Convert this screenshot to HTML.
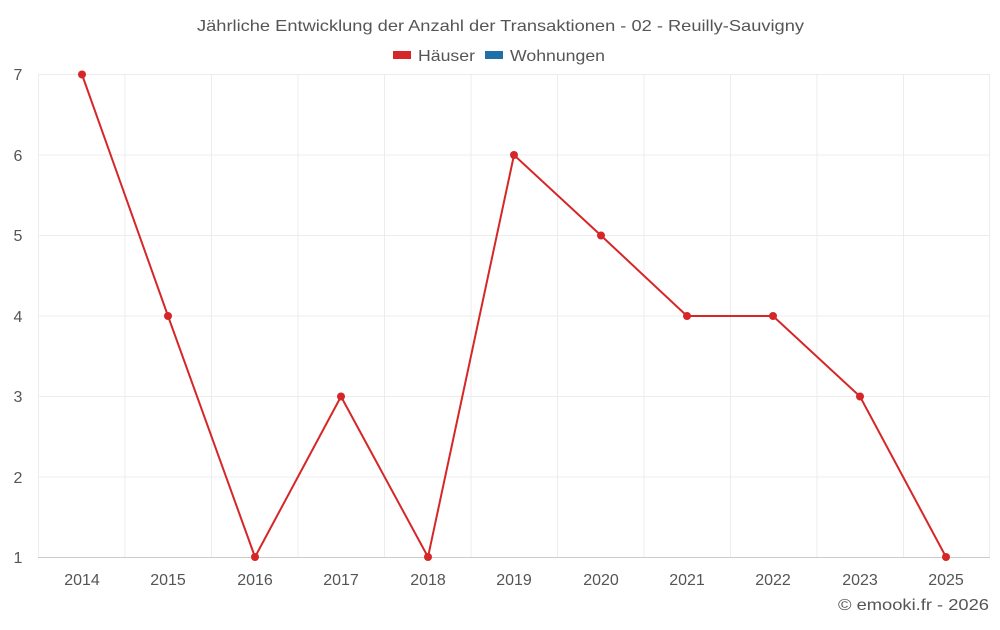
<!DOCTYPE html>
<html><head><meta charset="utf-8"><style>
body{margin:0;background:#fff;}
svg text{font-family:"Liberation Sans",sans-serif;fill:#555;}
</style></head><body>
<svg width="1000" height="625" xmlns="http://www.w3.org/2000/svg">
<text x="197" y="31" font-size="16" textLength="607" lengthAdjust="spacingAndGlyphs">Jährliche Entwicklung der Anzahl der Transaktionen - 02 - Reuilly-Sauvigny</text>
<rect x="393" y="51" width="18" height="8" fill="#d62728"/>
<text x="418" y="61" font-size="16" textLength="57" lengthAdjust="spacingAndGlyphs">Häuser</text>
<rect x="485" y="51" width="18" height="8" fill="#1f6fa8"/>
<text x="510" y="61" font-size="16" textLength="95" lengthAdjust="spacingAndGlyphs">Wohnungen</text>
<g stroke="#ececec" stroke-width="1">
<line x1="38" y1="74.5" x2="990" y2="74.5"/>
<line x1="38" y1="155" x2="990" y2="155"/>
<line x1="38" y1="235.5" x2="990" y2="235.5"/>
<line x1="38" y1="316" x2="990" y2="316"/>
<line x1="38" y1="396.5" x2="990" y2="396.5"/>
<line x1="38" y1="477" x2="990" y2="477"/>
<line x1="38.5" y1="74" x2="38.5" y2="557"/>
<line x1="125" y1="74" x2="125" y2="557"/>
<line x1="211.5" y1="74" x2="211.5" y2="557"/>
<line x1="298" y1="74" x2="298" y2="557"/>
<line x1="384.5" y1="74" x2="384.5" y2="557"/>
<line x1="471" y1="74" x2="471" y2="557"/>
<line x1="557.5" y1="74" x2="557.5" y2="557"/>
<line x1="644" y1="74" x2="644" y2="557"/>
<line x1="730.5" y1="74" x2="730.5" y2="557"/>
<line x1="817" y1="74" x2="817" y2="557"/>
<line x1="903.5" y1="74" x2="903.5" y2="557"/>
<line x1="989.5" y1="74" x2="989.5" y2="557"/>
</g>
<line x1="38" y1="557.5" x2="990" y2="557.5" stroke="#ccc"/>
<g font-size="16" text-anchor="middle">
<text x="18" y="80">7</text><text x="18" y="161">6</text><text x="18" y="241">5</text>
<text x="18" y="322">4</text><text x="18" y="402">3</text><text x="18" y="483">2</text><text x="18" y="563">1</text>
<text x="82" y="585">2014</text><text x="168" y="585">2015</text><text x="255" y="585">2016</text>
<text x="341" y="585">2017</text><text x="428" y="585">2018</text><text x="514" y="585">2019</text>
<text x="601" y="585">2020</text><text x="687" y="585">2021</text><text x="773" y="585">2022</text>
<text x="860" y="585">2023</text><text x="946" y="585">2025</text>
</g>
<polyline fill="none" stroke="#d62728" stroke-width="2" points="82,74.5 168,316 255,557 341,396.5 428,557 514,155 601,235.5 687,316 773,316 860,396.5 946,557"/>
<g fill="#d62728">
<circle cx="82" cy="74.5" r="4"/><circle cx="168" cy="316" r="4"/><circle cx="255" cy="557" r="4"/>
<circle cx="341" cy="396.5" r="4"/><circle cx="428" cy="557" r="4"/><circle cx="514" cy="155" r="4"/>
<circle cx="601" cy="235.5" r="4"/><circle cx="687" cy="316" r="4"/><circle cx="773" cy="316" r="4"/>
<circle cx="860" cy="396.5" r="4"/><circle cx="946" cy="557" r="4"/>
</g>
<text x="838" y="610" font-size="16" textLength="151" lengthAdjust="spacingAndGlyphs">© emooki.fr - 2026</text>
</svg>
</body></html>
